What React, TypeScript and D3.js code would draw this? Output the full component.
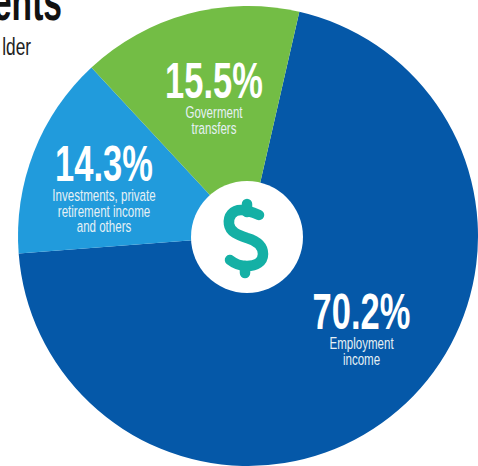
import React from "react";
import * as d3 from "d3";

const categories = ["Employment income", "Investments, private retirement income and others", "Goverment transfers"];
const shares = [70.2, 14.3, 15.5];
const sliceColors = ["#0558a8", "#219bdc", "#73bd45"];
const valueLabels = ["70.2%", "14.3%", "15.5%"];
const noteLines = [["Employment", "income"], ["Investments, private", "retirement income", "and others"], ["Goverment", "transfers"]];
const labelPositions = [[361.5, 329], [104, 181], [214, 98]];

const W = 478, H = 466, CX = 248, CY = 236, R = 230, HOLE = 56;
const START = (12.9 * Math.PI) / 180;

function Condensed({ x, y, size, scale, weight, fill, anchor = "middle", children }: any) {
  return (
    <text
      transform={`translate(${x},${y}) scale(${scale},1)`}
      textAnchor={anchor}
      fontFamily="'Liberation Sans', Arial, sans-serif"
      fontSize={size}
      fontWeight={weight}
      fill={fill}
    >
      {children}
    </text>
  );
}

export default function App() {
  const pie = d3.pie<number>().sort(null).startAngle(START).endAngle(START + 2 * Math.PI);
  const arc = d3.arc<d3.PieArcDatum<number>>().innerRadius(0).outerRadius(R);
  const arcs = pie(shares);
  return (
    <svg width={W} height={H} style={{ position: "absolute", left: 0, top: 0, background: "#fff" }}>
      <g transform={`translate(${CX},${CY})`}>
        {arcs.map((a, i) => (
          <path key={categories[i]} d={arc(a) || ""} fill={sliceColors[i]} />
        ))}
      </g>
      <circle cx={247} cy={237} r={HOLE} fill="#fff" />
      <g fill="none" stroke="#14b0a5" strokeWidth={10.5} strokeLinecap="round" strokeLinejoin="round">
        <path d="M259 215 C252 212 246 210 241 210 C233 210 228 216 229 224 C230 232 238 235 247 238 C257 241 263 246 263 254 C263 262 256 266 247 266 C240 266 235 264 230 260" />
        <path d="M247 204 L247 212" />
        <path d="M245 266 L245 273" />
      </g>
      {labelPositions.map(([x, y], i) => (
        <g key={valueLabels[i]}>
          <Condensed x={x} y={y} size={50} scale={0.69} weight={700} fill="#fff">
            {valueLabels[i]}
          </Condensed>
          {noteLines[i].map((line, j) => (
            <Condensed key={line} x={x} y={y + 20 + j * 15.7} size={16.5} scale={0.7} weight={400} fill="#e6f1f5">
              {line}
            </Condensed>
          ))}
        </g>
      ))}
      <Condensed x={62} y={20} size={56} scale={0.6} weight={700} fill="#111" anchor="end">
        ents
      </Condensed>
      <Condensed x={31} y={55} size={24} scale={0.72} weight={400} fill="#222" anchor="end">
        lder
      </Condensed>
    </svg>
  );
}
